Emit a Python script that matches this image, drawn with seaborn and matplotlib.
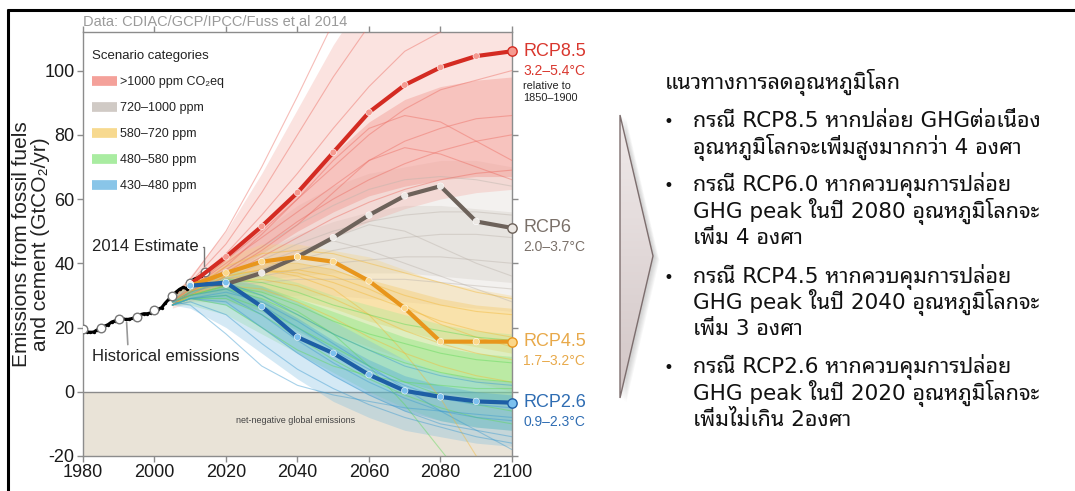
import matplotlib
matplotlib.use("Agg")
import matplotlib.pyplot as plt
import matplotlib.font_manager as fm
from matplotlib.ft2font import FT2Font
from matplotlib.lines import Line2D
from matplotlib.patches import Polygon
from matplotlib.colors import LinearSegmentedColormap
import numpy as np
import pandas as pd
import seaborn as sns

# ---- data ----
HIST_YEARS = list(range(1980, 2015))
HIST_VALUES = [19.4, 18.7, 18.5, 18.6, 19.3, 19.9, 20.4, 20.9, 21.7, 22.1,
               22.6, 22.8, 22.5, 22.6, 22.9, 23.4, 24.0, 24.3, 24.3, 24.6,
               25.3, 25.7, 26.2, 27.6, 28.8, 29.9, 31.0, 31.9, 32.5, 32.1,
               33.8, 35.0, 35.4, 36.0, 37.2]
HIST_MARK_YEARS = [1980, 1985, 1990, 1995, 2000, 2005, 2010, 2014]

RCP_YEARS = [2010, 2020, 2030, 2040, 2050, 2060, 2070, 2080, 2090, 2100]
RCP85 = [33.5, 42, 51.5, 62, 74.5, 87, 95.5, 101, 104.5, 106]
RCP60 = [33.5, 33.5, 37, 42, 48, 55, 61, 64, 53, 51]
RCP45 = [33, 37, 40.5, 42, 40.5, 34.5, 26, 15.6, 15.6, 15.6]
RCP26 = [33, 34, 26.5, 17, 12, 5.3, 0.3, -1.6, -3, -3.4]

RCP_NAMES = ["RCP8.5", "RCP6", "RCP4.5", "RCP2.6"]
RCP_RANGES = ["3.2–5.4°C", "2.0–3.7°C", "1.7–3.2°C", "0.9–2.3°C"]

SCEN_YEARS = [2005, 2010, 2020, 2030, 2040, 2050, 2060, 2070, 2080, 2090, 2100]
CATEGORIES = [">1000 ppm CO₂eq", "720–1000 ppm", "580–720 ppm", "480–580 ppm", "430–480 ppm"]

# outer envelopes of each scenario category
RED_LO = [26, 28, 32, 37, 42, 48, 53, 57, 60, 62, 63]
RED_HI = [30, 36, 50, 68, 88, 108, 125, 135, 140, 140, 140]
GRAY_LO = [27, 29, 30, 30, 30, 30, 29, 28, 27, 26, 25]
GRAY_HI = [31, 35, 42, 50, 58, 64, 68, 70, 72, 72, 70]
ORANGE_LO = [27, 28, 28, 25, 22, 18, 14, 10, 6, 3, 0]
ORANGE_HI = [31, 35, 42, 46, 46, 44, 42, 38, 34, 32, 30]
GREEN_LO = [27, 27, 24, 18, 12, 6, 0, -5, -9, -11, -12]
GREEN_HI = [30, 34, 38, 37, 34, 30, 27, 24, 21, 19, 18]
BLUE_LO = [27, 26, 20, 12, 4, -3, -8, -12, -14, -16, -17]
BLUE_HI = [30, 33, 36, 33, 28, 22, 16, 10, 6, 4, 3]

# denser inner parts of each category
RED_CORE_LO = [27, 30, 36, 43, 50, 56, 61, 64, 66, 67, 67]
RED_CORE_HI = [29, 33, 42, 52, 63, 74, 84, 91, 95, 97, 98]
GRAY_CORE_LO = [28, 30, 33, 35, 36, 37, 37, 37, 36, 35, 34]
GRAY_CORE_HI = [30, 33, 38, 44, 49, 53, 56, 58, 58, 57, 56]
ORANGE_CORE_LO = [28, 30, 32, 31, 29, 26, 22, 19, 16, 14, 12]
ORANGE_CORE_HI = [30, 33, 38, 40, 40, 38, 35, 32, 29, 27, 26]
GREEN_CORE_LO = [28, 29, 29, 25, 19, 13, 8, 3, 0, -2, -3]
GREEN_CORE_HI = [29, 32, 35, 33, 29, 25, 21, 17, 14, 12, 11]
BLUE_CORE_LO = [28, 29, 27, 20, 12, 5, -1, -6, -9, -11, -12]
BLUE_CORE_HI = [29, 31, 33, 29, 23, 16, 10, 5, 2, 0, -1]

RED_MEMBERS = [
    [29, 35, 50, 70, 92, 115, 130, 140, 145, 148, 150],
    [29, 34, 46, 62, 80, 98, 114, 125, 132, 136, 138],
    [28, 33, 43, 55, 68, 82, 95, 106, 112, 116, 118],
    [28, 32, 41, 50, 60, 70, 80, 88, 94, 97, 100],
    [28, 32, 40, 48, 56, 64, 72, 78, 82, 85, 86],
    [27, 31, 38, 45, 53, 60, 66, 71, 75, 78, 80],
    [27, 31, 37, 44, 52, 62, 72, 76, 74, 70, 66],
    [27, 30, 36, 42, 48, 54, 59, 63, 66, 68, 69],
    [27, 31, 39, 49, 60, 72, 82, 86, 84, 78, 72],
]
GRAY_MEMBERS = [
    [28, 32, 38, 45, 52, 58, 63, 66, 67, 66, 64],
    [28, 31, 36, 41, 46, 50, 53, 55, 56, 56, 55],
    [28, 31, 35, 38, 41, 44, 46, 48, 49, 49, 48],
    [27, 30, 34, 36, 38, 40, 41, 42, 42, 41, 40],
    [27, 30, 33, 34, 35, 35, 35, 35, 34, 33, 32],
    [27, 30, 34, 38, 43, 48, 52, 50, 45, 40, 36],
    [28, 31, 35, 40, 44, 47, 44, 40, 36, 32, 28],
]
ORANGE_MEMBERS = [
    [28, 32, 39, 43, 44, 43, 40, 37, 34, 31, 29],
    [28, 31, 37, 40, 40, 38, 34, 30, 27, 25, 24],
    [28, 31, 36, 38, 37, 34, 30, 26, 22, 19, 17],
    [27, 30, 34, 35, 33, 29, 24, 19, 15, 12, 10],
    [27, 30, 33, 32, 28, 23, 17, 12, 8, 5, 3],
    [28, 31, 36, 38, 36, 32, 24, 12, -2, -20, -35],
    [27, 30, 35, 37, 38, 36, 32, 27, 21, 17, 14],
]
GREEN_MEMBERS = [
    [28, 31, 35, 34, 31, 27, 24, 21, 19, 17, 16],
    [28, 30, 33, 31, 27, 22, 18, 15, 12, 10, 9],
    [27, 30, 32, 29, 24, 18, 13, 9, 6, 4, 3],
    [27, 29, 30, 26, 20, 14, 8, 3, -1, -4, -6],
    [27, 29, 29, 24, 17, 10, 4, -1, -5, -8, -10],
    [28, 30, 33, 30, 25, 18, 8, -4, -18, -32, -45],
    [27, 29, 27, 20, 13, 8, 5, 3, 2, 1, 1],
]
BLUE_MEMBERS = [
    [28, 31, 34, 30, 24, 18, 13, 8, 5, 3, 2],
    [28, 30, 32, 27, 20, 13, 7, 2, -2, -4, -5],
    [27, 29, 30, 24, 16, 9, 3, -2, -6, -8, -9],
    [27, 29, 28, 20, 12, 5, -1, -6, -10, -12, -14],
    [27, 28, 24, 15, 7, 1, -4, -8, -11, -14, -16],
    [28, 27, 18, 8, 2, -1, -3, -5, -6, -7, -8],
    [27, 29, 31, 28, 22, 15, 8, 1, -6, -12, -18],
]

TITLE_TH = "แนวทางการลดอุณหภูมิโลก"
BULLETS_TH = [
    ["กรณี RCP8.5 หากปล่อย GHGต่อเนื่อง", "อุณหภูมิโลกจะเพิ่มสูงมากกว่า 4 องศา"],
    ["กรณี RCP6.0 หากควบคุมการปล่อย", "GHG peak ในปี 2080 อุณหภูมิโลกจะ", "เพิ่ม 4 องศา"],
    ["กรณี RCP4.5 หากควบคุมการปล่อย", "GHG peak ในปี 2040 อุณหภูมิโลกจะ", "เพิ่ม 3 องศา"],
    ["กรณี RCP2.6 หากควบคุมการปล่อย", "GHG peak ในปี 2020 อุณหภูมิโลกจะ", "เพิ่มไม่เกิน 2องศา"],
]

# ---- colours ----
BAND_COLORS = ["#f3a39b", "#d8d2cc", "#f7d27a", "#9aea8e", "#73b8e0"]
CORE_COLORS = ["#f07a70", "#cdc6bf", "#f5c24a", "#6ce465", "#3fa0d5"]
MEMBER_COLORS = ["#ec6c62", "#bdb5ad", "#f2b93a", "#5fd85a", "#3d9bd0"]
LEGEND_COLORS = ["#ef6f64", "#b8aea6", "#f3c653", "#7be26f", "#4aa6dc"]
RCP_LINE = ["#d42b22", "#6d625a", "#e8961c", "#1d5ea6"]
RCP_FACE = ["#f59a90", "#ece8e4", "#fbd78a", "#7cc0ee"]
RCP_TEXT = ["#d9372e", "#7a7069", "#e8a94a", "#2f6db3"]


def thai_family():
    names = []
    for f in fm.fontManager.ttflist:
        try:
            if 0x0E01 in FT2Font(f.fname).get_charmap():
                names.append(f.name)
        except Exception:
            continue
    for pref in ("Tahoma", "Noto Sans Thai Looped", "Noto Sans Thai", "Loma",
                 "Garuda", "Sarabun", "Noto Serif Thai"):
        if pref in names:
            return pref
    return names[0] if names else "DejaVu Sans"


sns.set_theme(style="ticks")
plt.rcParams["font.family"] = ["Liberation Sans", "DejaVu Sans"]
plt.rcParams["axes.unicode_minus"] = False
THAI = thai_family()

fig = plt.figure(figsize=(10.75, 4.91), dpi=100)
fig.patch.set_facecolor("white")
ax = fig.add_axes([83 / 1075, 1 - 456 / 491, (512 - 83) / 1075, (456 - 32) / 491])
ax.set_facecolor("white")

# net-negative region
ax.axhspan(-20, 0, color="#e9e3d7", lw=0, zorder=0)
ax.axhline(0, color="#8a8a8a", lw=1, zorder=1)
ax.text(2039.5, -9, "net-negative global emissions", fontsize=6.5, color="#444",
        ha="center", va="center", zorder=1)

# scenario envelopes (outer, then core)
bands = [(GRAY_LO, GRAY_HI, GRAY_CORE_LO, GRAY_CORE_HI, 1),
         (RED_LO, RED_HI, RED_CORE_LO, RED_CORE_HI, 0),
         (ORANGE_LO, ORANGE_HI, ORANGE_CORE_LO, ORANGE_CORE_HI, 2),
         (GREEN_LO, GREEN_HI, GREEN_CORE_LO, GREEN_CORE_HI, 3),
         (BLUE_LO, BLUE_HI, BLUE_CORE_LO, BLUE_CORE_HI, 4)]
for lo, hi, clo, chi, ci in bands:
    ax.fill_between(SCEN_YEARS, lo, hi, color=BAND_COLORS[ci], alpha=0.3, lw=0, zorder=2)
    ax.fill_between(SCEN_YEARS, clo, chi, color=CORE_COLORS[ci], alpha=0.3, lw=0, zorder=2)

# scenario members
member_sets = [(1, GRAY_MEMBERS), (0, RED_MEMBERS), (2, ORANGE_MEMBERS),
               (3, GREEN_MEMBERS), (4, BLUE_MEMBERS)]
rows = []
for ci, mlist in member_sets:
    for i, m in enumerate(mlist):
        for yr, v in zip(SCEN_YEARS, m):
            rows.append({"year": yr, "value": v, "cat": CATEGORIES[ci], "member": f"{ci}-{i}"})
df_m = pd.DataFrame(rows)
sns.lineplot(data=df_m, x="year", y="value", hue="cat", units="member", estimator=None,
             hue_order=[CATEGORIES[ci] for ci, _ in member_sets],
             palette=dict(zip(CATEGORIES, MEMBER_COLORS)), lw=0.8, alpha=0.45,
             legend=False, ax=ax, zorder=3)

# historical emissions
df_h = pd.DataFrame({"year": HIST_YEARS, "value": HIST_VALUES})
sns.lineplot(data=df_h, x="year", y="value", color="black", lw=2.2, ax=ax, zorder=6)
sns.scatterplot(data=df_h, x="year", y="value", color="black", s=6, lw=0, ax=ax, zorder=6)
df_hm = df_h[df_h["year"].isin(HIST_MARK_YEARS)]
sns.scatterplot(data=df_hm, x="year", y="value", color="white", edgecolor="#777",
                s=38, lw=1, ax=ax, zorder=7)

# RCP pathways
rcp_vals = [RCP85, RCP60, RCP45, RCP26]
df_r = pd.DataFrame([{"year": yr, "value": v, "rcp": RCP_NAMES[k]}
                     for k, vals in enumerate(rcp_vals) for yr, v in zip(RCP_YEARS, vals)])
sns.lineplot(data=df_r, x="year", y="value", hue="rcp", hue_order=RCP_NAMES,
             palette=dict(zip(RCP_NAMES, RCP_LINE)), lw=3, legend=False, ax=ax, zorder=8)
df_rm = df_r[df_r["year"] < 2100]
sns.scatterplot(data=df_rm, x="year", y="value", hue="rcp", hue_order=RCP_NAMES,
                palette=dict(zip(RCP_NAMES, RCP_FACE)), s=22, edgecolor="white", lw=0.4,
                legend=False, ax=ax, zorder=9)
for k, vals in enumerate(rcp_vals):
    ax.scatter([RCP_YEARS[-1]], [vals[-1]], s=45, color=RCP_FACE[k], edgecolor=RCP_LINE[k],
               lw=1, zorder=10, clip_on=False)
    ax.annotate(RCP_NAMES[k], xy=(RCP_YEARS[-1], vals[-1]), xytext=(8, 0),
                textcoords="offset points", ha="left", va="center", fontsize=13,
                color=RCP_TEXT[k], annotation_clip=False)
    ax.annotate(RCP_RANGES[k], xy=(RCP_YEARS[-1], vals[-1]), xytext=(8, -14),
                textcoords="offset points", ha="left", va="center", fontsize=10,
                color=RCP_TEXT[k], annotation_clip=False)
ax.annotate("relative to", xy=(RCP_YEARS[-1], RCP85[-1]), xytext=(8, -25),
            textcoords="offset points", ha="left", va="center", fontsize=7.8,
            color="#222", annotation_clip=False)
ax.annotate("1850–1900", xy=(RCP_YEARS[-1], RCP85[-1]), xytext=(8, -34),
            textcoords="offset points", ha="left", va="center", fontsize=7.8,
            color="#222", annotation_clip=False)

# annotations
ax.annotate("2014 Estimate", xy=(2013.9, 39.2), xytext=(1982.5, 45.2), fontsize=12,
            color="#222", ha="left", va="center",
            arrowprops=dict(arrowstyle="-", color="#777", lw=1, relpos=(1, 0.5),
                            connectionstyle="angle,angleA=0,angleB=90,rad=0",
                            shrinkA=1, shrinkB=0))
ax.annotate("Historical emissions", xy=(1992.2, 21.6), xytext=(1982.5, 10.9), fontsize=12,
            color="#222", ha="left", va="center",
            arrowprops=dict(arrowstyle="-", color="#999", lw=1.2, relpos=(0.245, 1),
                            shrinkA=1, shrinkB=0))
ax.text(0, 1.008, "Data: CDIAC/GCP/IPCC/Fuss et al 2014", transform=ax.transAxes,
        fontsize=10.5, color="#9a9a9a", ha="left", va="bottom")

# legend
handles = [Line2D([0], [0], color=c, lw=7, alpha=0.65, solid_capstyle="butt")
           for c in LEGEND_COLORS]
leg = ax.legend(handles, CATEGORIES, title="Scenario categories", loc="upper left",
                bbox_to_anchor=(0.021, 0.957), frameon=False, fontsize=9,
                title_fontsize=9.5, alignment="left", handlelength=2.0,
                handletextpad=0.25, labelspacing=1.12, borderpad=0, borderaxespad=0)
for t in leg.get_texts():
    t.set_color("#222")
leg.get_title().set_color("#222")

# axes styling
ax.set_xlim(1980, 2100)
ax.set_ylim(-20, 112)
ax.set_xticks(range(1980, 2101, 20))
ax.set_yticks(range(-20, 101, 20))
ax.tick_params(direction="out", length=4, width=1, color="#8c8c8c", labelsize=13,
               labelcolor="#1a1a1a", top=True, right=True, labeltop=False,
               labelright=False, pad=2)
for s in ax.spines.values():
    s.set_color("#8c8c8c")
    s.set_linewidth(1)
ax.set_xlabel("")
ax.set_ylabel("Emissions from fossil fuels\nand cement (GtCO₂/yr)", fontsize=15,
              color="#222", linespacing=1.0, labelpad=-4)

# ---- slide decoration and Thai text ----
deco = fig.add_axes([0, 0, 1, 1], zorder=-1)
deco.axis("off")
deco.plot([7, 1075], [9.5, 9.5], color="black", lw=2.2, solid_capstyle="butt")
deco.plot([7.5, 7.5], [9, 491], color="black", lw=2.2, solid_capstyle="butt")

arrow_pts = [(620, 115), (653, 256), (620, 398)]
for k in range(1, 8):
    deco.add_patch(Polygon([(x + k * 0.9, y + k * 0.6) for x, y in arrow_pts],
                           closed=True, facecolor="#666", edgecolor="none", alpha=0.05,
                           zorder=1))
grad = np.linspace(0, 1, 200).reshape(-1, 1)
img = deco.imshow(grad, extent=(620, 654, 398, 115), origin="upper", aspect="auto",
                  cmap=LinearSegmentedColormap.from_list("arr", ["#f0eaea", "#d2c6c6"]),
                  zorder=2)
img.set_clip_path(Polygon(arrow_pts, closed=True, transform=deco.transData))
deco.add_patch(Polygon(arrow_pts, closed=True, facecolor="none", edgecolor="#7d6e6e",
                       lw=1, zorder=3))

thai_fam = ["DejaVu Sans", THAI]
deco.text(665, 89, TITLE_TH, fontsize=15.5, family=thai_fam, color="#111",
          ha="left", va="baseline")
baselines = [[127, 154], [191, 218, 244], [283, 309, 335], [373, 400, 426]]
for lines, bl in zip(BULLETS_TH, baselines):
    deco.text(668, bl[0], "•", fontsize=12, family="DejaVu Sans", color="#111",
              ha="center", va="baseline")
    for txt, y in zip(lines, bl):
        deco.text(693, y, txt, fontsize=15.5, family=thai_fam, color="#111",
                  ha="left", va="baseline")

deco.set_xlim(0, 1075)
deco.set_ylim(491, 0)

fig.savefig("out.png", dpi=100)
